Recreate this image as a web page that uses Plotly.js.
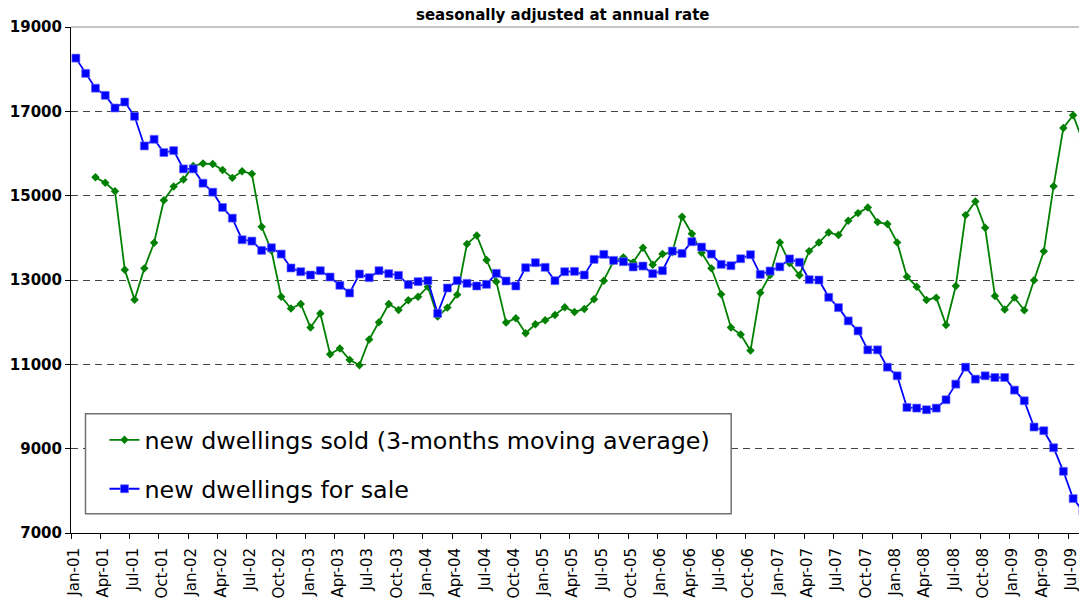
<!DOCTYPE html>
<html>
<head>
<meta charset="utf-8">
<script src="https://cdn.plot.ly/plotly-3.0.1.min.js"></script>
<style>
  html, body { margin: 0; padding: 0; background: #ffffff; }
  #chart { width: 1079px; height: 600px; }
</style>
</head>
<body>
<div id="chart"></div>
<script>
// ---- data (monthly, Jan-01 .. Aug-09) ----
const monthNames = ['Jan','Feb','Mar','Apr','May','Jun','Jul','Aug','Sep','Oct','Nov','Dec'];
const firstYear = 2001;

const soldName = 'new dwellings sold (3-months moving average)';
const forSaleName = 'new dwellings for sale';

const soldValues = [
  null, null, 15438, 15304, 15106, 13244, 12534, 13276, 13884, 14893, 15217, 15383,
  15706, 15761, 15753, 15611, 15422, 15580, 15517, 14262, 13700, 12605, 12325, 12432,
  11872, 12207, 11241, 11375, 11106, 10980, 11588, 11998, 12432, 12290, 12519, 12605,
  12842, 12132, 12345, 12653, 13852, 14057, 13473, 12961, 11990, 12093, 11738, 11951,
  12045, 12170, 12353, 12243, 12314, 12542, 12984, 13450, 13537, 13418, 13765, 13363,
  13615, 13660, 14499, 14097, 13647, 13276, 12661, 11872, 11706, 11327, 12700, 13118,
  13892, 13400, 13114, 13685, 13888, 14128, 14065, 14404, 14586, 14720, 14373, 14326,
  13892, 13079, 12842, 12527, 12582, 11935, 12858, 14539, 14862, 14239, 12621, 12298,
  12582, 12282, 12992, 13679, 15225, 16606, 16906, 16290
];

const forSaleValues = [
  18262, 17900, 17549, 17379, 17079, 17221, 16882, 16179, 16337, 16022, 16069, 15635,
  15635, 15296, 15083, 14720, 14467, 13955, 13923, 13702, 13765, 13615, 13285, 13197,
  13118, 13221, 13071, 12874, 12692, 13142, 13055, 13221, 13150, 13110, 12890, 12961,
  12984, 12211, 12811, 12984, 12921, 12858, 12897, 13158, 12976, 12858, 13292, 13410,
  13300, 12984, 13197, 13205, 13118, 13489, 13608, 13465, 13434, 13308, 13331, 13150,
  13221, 13686, 13631, 13907, 13781, 13615, 13371, 13339, 13505, 13600, 13134, 13213,
  13312, 13500, 13420, 13008, 13000, 12590, 12345, 12030, 11793, 11343, 11343, 10933,
  10728, 9978, 9962, 9923, 9962, 10160, 10530, 10933, 10649, 10728, 10688, 10688,
  10388, 10136, 9513, 9426, 9023, 8463, 7816, 7520
];

const yTickValues = [7000, 9000, 11000, 13000, 15000, 17000, 19000];
const subtitleText = 'seasonally adjusted at annual rate';

// ---- build categories / ticks ----
const monthLabels = [];
const monthIndex = [];
for (let k = 0; k < forSaleValues.length; k++) {
  const yy = String((firstYear + Math.floor(k / 12)) % 100).padStart(2, '0');
  monthLabels.push(monthNames[k % 12] + '-' + yy);
  monthIndex.push(k);
}
const tickPos = [];
const tickText = [];
for (let k = 0; k <= 102; k += 3) {
  tickPos.push(k - 0.5);
  tickText.push(monthLabels[k]);
}

// ---- geometry helpers (pixel -> paper) ----
const W = 1079, H = 600;
const mL = 70.5, mR = 0, mT = 26.7, mB = 66.7;
const pw = W - mL - mR, ph = H - mT - mB;
const px = v => (v - mL) / pw;
const py = v => (H - mB - v) / ph;

const xRange = [-0.5, 102.6];

const traces = [
  {
    type: 'scatter', mode: 'lines+markers', name: soldName,
    x: monthIndex, y: soldValues, legendgroup: 'a',
    line: { color: '#008000', width: 1.8 },
    marker: { symbol: 'diamond', size: 6.5, color: '#008000' },
    connectgaps: false, hoverinfo: 'x+y'
  },
  {
    type: 'scatter', mode: 'lines+markers', name: forSaleName,
    x: monthIndex, y: forSaleValues, legendgroup: 'b',
    line: { color: '#0000FF', width: 1.8 },
    marker: { symbol: 'square', size: 8, color: '#0000FF', line: { width: 0.8, color: 'rgba(110,110,255,0.8)' } },
    hoverinfo: 'x+y'
  }
];

const layout = {
  width: W, height: H,
  margin: { l: mL, r: mR, t: mT, b: mB, pad: 0 },
  paper_bgcolor: '#ffffff', plot_bgcolor: '#ffffff',
  font: { family: 'DejaVu Sans, Arial, sans-serif', color: '#000000' },
  showlegend: true,
  legend: {
    x: px(104), y: py(418), xanchor: 'left', yanchor: 'top',
    bgcolor: 'rgba(0,0,0,0)', borderwidth: 0,
    font: { family: 'DejaVu Sans, Arial, sans-serif', size: 23.8, color: '#000000' },
    traceorder: 'grouped', tracegroupgap: 15, itemwidth: 30
  },
  xaxis: {
    type: 'linear', range: xRange, fixedrange: true,
    tickmode: 'array', tickvals: tickPos, ticktext: tickText,
    tickangle: -90, ticks: 'outside', ticklen: 5, tickwidth: 1, tickcolor: '#000000',
    ticklabelshift: 3, ticklabelstandoff: 3, ticklabeloverflow: 'allow',
    tickfont: { family: 'DejaVu Sans, Arial, sans-serif', size: 15, color: '#000000' },
    showline: true, linecolor: '#000000', linewidth: 1,
    showgrid: false, zeroline: false
  },
  xaxis2: {
    type: 'linear', range: xRange, overlaying: 'x', anchor: 'y', side: 'bottom',
    tickmode: 'array', tickvals: tickPos, ticktext: tickText.map(() => ''),
    ticks: 'inside', ticklen: 5, tickwidth: 1, tickcolor: '#000000',
    showticklabels: false, showline: false, showgrid: false, zeroline: false
  },
  yaxis: {
    range: [7000, 19000], fixedrange: true,
    tickmode: 'array', tickvals: yTickValues, ticktext: yTickValues.map(String),
    ticks: 'outside', ticklen: 5, tickwidth: 1, tickcolor: '#000000',
    tickfont: { family: 'DejaVu Sans, Arial, sans-serif', size: 15, color: '#000000', weight: 'bold' },
    showline: true, linecolor: '#000000', linewidth: 1,
    showgrid: true, gridcolor: '#444444', gridwidth: 1, griddash: '7px,5px',
    zeroline: false
  },
  shapes: [
    { type: 'line', xref: 'paper', yref: 'paper', x0: 0, x1: 1, y0: 1, y1: 1,
      line: { color: '#8c8c8c', width: 1.2 }, layer: 'above' },
    { type: 'rect', xref: 'paper', yref: 'paper',
      x0: px(85), x1: px(731), y0: py(514), y1: py(414),
      fillcolor: '#ffffff', line: { color: '#707070', width: 1.5 }, layer: 'above' }
  ],
  annotations: [
    { text: '<b>' + subtitleText + '</b>', xref: 'paper', yref: 'paper',
      x: px(562), y: 1, xanchor: 'center', yanchor: 'bottom', yshift: 1,
      showarrow: false, font: { family: 'DejaVu Sans, Arial, sans-serif', size: 15, color: '#000000' } }
  ]
};

Plotly.newPlot('chart', traces, layout, { displayModeBar: false, staticPlot: true });
</script>
</body>
</html>
